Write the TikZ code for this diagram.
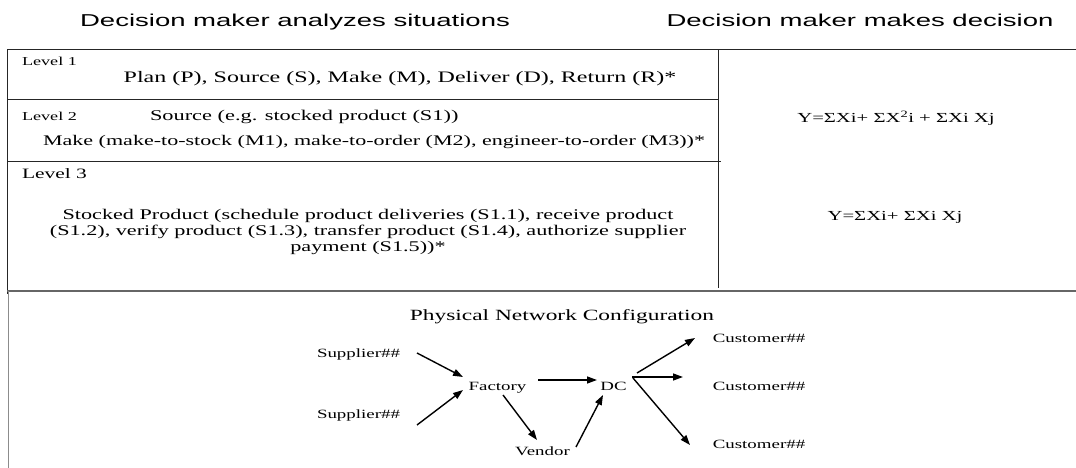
\documentclass[tikz,border=0pt]{standalone}
\usepackage{fontspec}
\setmainfont{Liberation Serif}[FakeStretch=1.5]
\newfontfamily\titlefont{Liberation Sans}[FakeStretch=1.6]
\usetikzlibrary{arrows.meta,calc}
\newcommand{\setfs}[1]{\fontsize{#1}{#1}\selectfont}
\begin{document}
\begin{tikzpicture}[x=1pt,y=-1pt,
  lbl/.style={inner sep=0pt,outer sep=0pt,anchor=base},
  lblw/.style={inner sep=0pt,outer sep=0pt,anchor=base west},
  rule/.style={draw=black!85,line width=1pt},
  arr/.style={line width=1.4pt,-{Triangle[length=10pt,width=7pt]}},
  netnode/.style={lbl,font=\setfs{12.6}}]
\useasboundingbox (0,0) rectangle (1076,468);

% table rules
\draw[rule] (7,50) -- (1076,50);
\draw[rule] (7,50) -- (7,294);
\draw[rule] (7,100) -- (718,100);
\draw[rule] (7,161) -- (721,161);
\draw[rule] (718,50) -- (718,288);
\draw[draw=black!60,line width=1.6pt] (7,291) -- (1076,291);
\draw[draw=black!45,line width=1pt] (8.5,291) -- (8.5,468);

% titles
\node[lbl,font=\titlefont\setfs{17.2}] (t1) at (295,27) {Decision maker analyzes situations};
\node[lbl,font=\titlefont\setfs{17.2}] (t2) at (860,27) {Decision maker makes decision};

% level rows
\node[lblw,font=\setfs{12.1}] (l1) at (22,66) {Level 1};
\node[lbl,font=\setfs{16}] (p1) at (400,83) {Plan (P), Source (S), Make (M), Deliver (D), Return (R)*};
\node[lblw,font=\setfs{12.1}] (l2) at (22,121) {Level 2};
\node[lblw,font=\setfs{14.9}] (p2a) at (150,121) {Source (e.g. stocked product (S1))};
\node[lblw,font=\setfs{14.7}] (p2b) at (43,146) {Make (make-to-stock (M1), make-to-order (M2), engineer-to-order (M3))*};
\node[lblw,font=\setfs{14.3}] (l3) at (22,178) {Level 3};
\node[inner sep=0pt,anchor=center,align=center,font=\fontsize{14.8}{16}\selectfont] (p3) at (368,232)
  {Stocked Product (schedule product deliveries (S1.1), receive product\\
   (S1.2), verify product (S1.3), transfer product (S1.4), authorize supplier\\
   payment (S1.5))*};

% formulas
\node[lbl,font=\setfs{13.8}] (f1) at (896,123) {Y=ΣXi+ ΣX\textsuperscript{2}i + ΣXi Xj};
\node[lbl,font=\setfs{13.8}] (f2) at (895,220) {Y=ΣXi+ ΣXi Xj};

% physical network
\node[lbl,font=\setfs{15.6}] (pn) at (562,320) {Physical Network Configuration};
\node[netnode] (s1) at (358.5,357) {Supplier\#\#};
\node[netnode] (s2) at (358.5,418) {Supplier\#\#};
\node[netnode] (fac) at (497.5,390) {Factory};
\node[netnode] (ven) at (542.5,455) {Vendor};
\node[netnode] (dc) at (613.5,390) {DC};
\node[netnode] (c1) at (759,342) {Customer\#\#};
\node[netnode] (c2) at (759,390) {Customer\#\#};
\node[netnode] (c3) at (759,448) {Customer\#\#};

\draw[arr] ($(s1.base)+(58.5,-4)$) -- ($(fac.base)+(-34.5,-13)$);
\draw[arr] ($(s2.base)+(58.5,7)$) -- ($(fac.base)+(-34.5,0)$);
\draw[arr] ($(fac.base)+(40.5,-10)$) -- ($(dc.base)+(-16.5,-10)$);
\draw[arr] ($(fac.base)+(5.5,5)$) -- ($(ven.base)+(-5.5,-15)$);
\draw[arr] ($(ven.base)+(33.5,-8)$) -- ($(dc.base)+(-10.5,5)$);
\draw[arr] ($(dc.base)+(23.5,-17)$) -- ($(c1.base)+(-64,-4)$);
\draw[arr] ($(dc.base)+(18.5,-13)$) -- ($(c2.base)+(-76,-13)$);
\draw[arr] ($(dc.base)+(19.5,-12)$) -- ($(c3.base)+(-69,-3)$);
\end{tikzpicture}
\end{document}
